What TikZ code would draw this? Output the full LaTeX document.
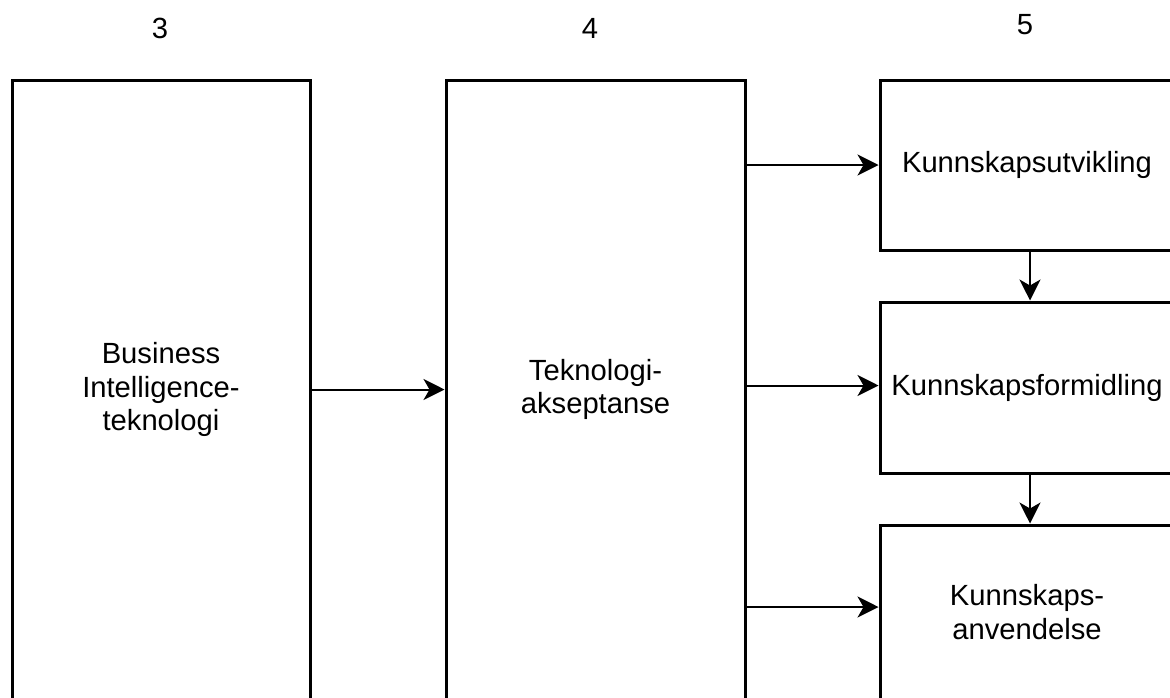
\documentclass[tikz,border=0pt]{standalone}
\usepackage{fontspec}
\setmainfont{Liberation Sans}
\usetikzlibrary{arrows.meta,positioning}
\tikzset{>={Stealth[length=10.5pt,width=10.5pt,inset=3pt]}}
\tikzset{
  blokk/.style={draw,line width=1.5pt,align=center,inner sep=0pt,
    font=\fontsize{14.6}{16.8}\selectfont},
  nummer/.style={font=\fontsize{14.6}{16.8}\selectfont},
  pil/.style={->,line width=1pt}
}
\begin{document}
\begin{tikzpicture}[x=0.5pt,y=-0.5pt]
\useasboundingbox (0,0) rectangle (1170,697);
\clip (0,0) rectangle (1170,697);
% kolonnenummer
\node[nummer] (n3) at (160,28) {3};
\node[nummer] (n4) at (590,28) {4};
\node[nummer] (n5) at (1025,25) {5};
% bokser
\node[blokk,minimum width=149pt,minimum height=309.5pt] (bi) at (161,389.5)
  {Business\\Intelligence-\\teknologi};
\node[blokk,minimum width=149.5pt,minimum height=309.5pt] (ta) at (595.5,389.5)
  {Teknologi-\\akseptanse};
\node[blokk,minimum width=147pt,minimum height=85pt] (ku) at (1027,165)
  {Kunnskapsutvikling};
\node[blokk,minimum width=147pt,minimum height=85.5pt] (kf) at (1027,387.5)
  {Kunnskapsformidling};
\node[blokk,minimum width=147pt,minimum height=87pt] (ka) at (1027,612)
  {Kunnskaps-\\anvendelse};
% piler
\draw[pil] (bi.east) -- (ta.west);
\draw[pil] (ta.east |- ku.west) -- (ku.west);
\draw[pil] (ta.east |- kf.west) ++(0,-2) -- ([yshift=1pt]kf.west);
\draw[pil] (ta.east |- ka.west) ++(0,-5) -- ([yshift=2.5pt]ka.west);
\draw[pil] ([xshift=1.5pt]ku.south) -- ([xshift=1.5pt]kf.north);
\draw[pil] ([xshift=1.5pt]kf.south) -- ([xshift=1.5pt]ka.north);
\end{tikzpicture}
\end{document}
